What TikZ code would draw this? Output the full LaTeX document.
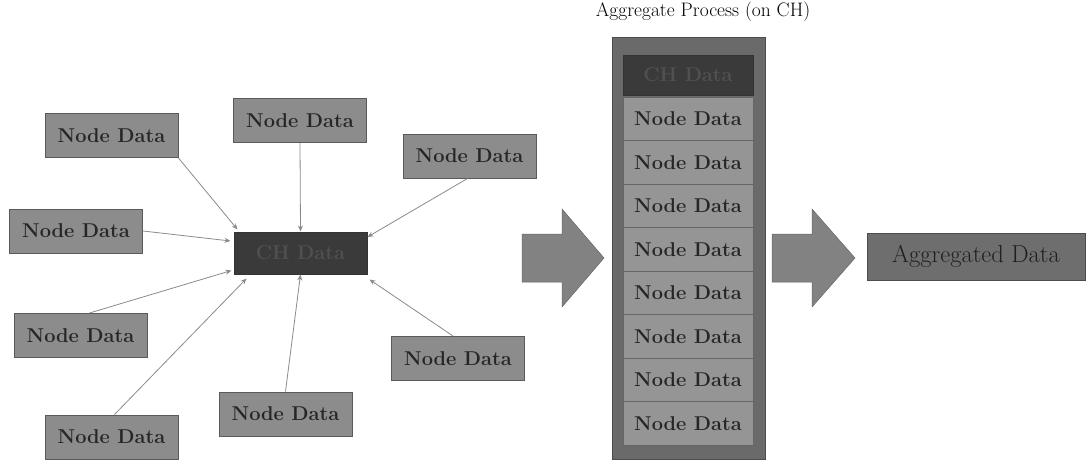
\documentclass[tikz,border=0pt]{standalone}
\usetikzlibrary{arrows.meta,calc}
\definecolor{ndfill}{HTML}{8C8C8C}
\definecolor{ndborder}{HTML}{5A5A5A}
\definecolor{chfill}{HTML}{3A3A3A}
\definecolor{chtext}{HTML}{505050}
\definecolor{colfill}{HTML}{6A6A6A}
\definecolor{cellfill}{HTML}{959595}
\definecolor{arrfill}{HTML}{828282}
\definecolor{aggfill}{HTML}{6E6E6E}
\definecolor{connc}{HTML}{8A8A8A}
\tikzset{
  nd/.style={draw=ndborder, line width=1pt, fill=ndfill, minimum width=133pt, minimum height=44pt, inner sep=0pt, font=\fontsize{20}{23}\selectfont\bfseries, text=black!85},
  chbox/.style={draw=black!80, line width=1pt, fill=chfill, minimum width=133pt, minimum height=42pt, inner sep=0pt, font=\fontsize{20}{23}\selectfont\bfseries, text=chtext},
  cell/.style={draw=black!60, line width=1pt, fill=cellfill, minimum width=130pt, minimum height=43.5pt, inner sep=0pt, font=\fontsize{20}{23}\selectfont\bfseries, text=black!85},
  conn/.style={draw=connc, line width=0.8pt, -{Stealth[length=6pt,width=5pt]}},
  bigarrow/.style={fill=arrfill, draw=arrfill!80!black, line width=0.5pt}
}
\begin{document}
\begin{tikzpicture}[x=1pt,y=-1pt]
\useasboundingbox (0,0) rectangle (1086,466);
% left cluster
\node[chbox] (ch) at (300.5,253) {CH Data};
\node[nd] (n1) at (111.5,135.5) {Node Data};
\node[nd] (n2) at (300,120.5) {Node Data};
\node[nd] (n3) at (469.5,156) {Node Data};
\node[nd] (n4) at (76,231) {Node Data};
\node[nd] (n5) at (80.5,335.5) {Node Data};
\node[nd] (n6) at (458,358.5) {Node Data};
\node[nd] (n7) at (111.5,437) {Node Data};
\node[nd] (n8) at (285.5,414) {Node Data};
\draw[conn] (n1.south east) -- ($(ch.north west)+(4,-2)$);
\draw[conn] (n2.south) -- (ch.north);
\draw[conn] ($(n3.south)+(-2,0)$) -- ($(ch.east)+(0,-16)$);
\draw[conn] (n4.east) -- ($(ch.west)+(-3,-12)$);
\draw[conn] ($(n5.north)+(9,0)$) -- ($(ch.south west)+(-2,-4)$);
\draw[conn] ($(n6.north)+(-5,0)$) -- ($(ch.south east)+(2,5)$);
\draw[conn] ($(n7.north)+(3,0)$) -- ($(ch.south west)+(13,4)$);
\draw[conn] (n8.north) -- (ch.south);
% first big arrow
\path[bigarrow] (522,234) -- (562,234) -- (562,209) -- (604,258) -- (562,307) -- (562,282) -- (522,282) -- cycle;
% column
\node[anchor=south, font=\fontsize{19.5}{22}\selectfont] (title) at (703,25) {Aggregate Process (on CH)};
\path[fill=colfill, draw=black!70, line width=1pt] (612,37) rectangle (765,459);
\node[chbox, minimum width=130pt, minimum height=40pt] (cch) at (688,75) {CH Data};
\foreach \i in {0,...,7} {
  \node[cell] (c\i) at (688,{118.75+\i*43.5}) {Node Data};
}
% second big arrow
\path[bigarrow] (772,234) -- (812,234) -- (812,209) -- (855,258) -- (812,307) -- (812,282) -- (772,282) -- cycle;
% aggregated data
\node[draw=black!70, line width=1pt, fill=aggfill, minimum width=218pt, minimum height=47pt, inner sep=0pt, font=\fontsize{24.5}{28}\selectfont, text=black!88] (agg) at (976,256.5) {Aggregated Data};
\end{tikzpicture}
\end{document}
